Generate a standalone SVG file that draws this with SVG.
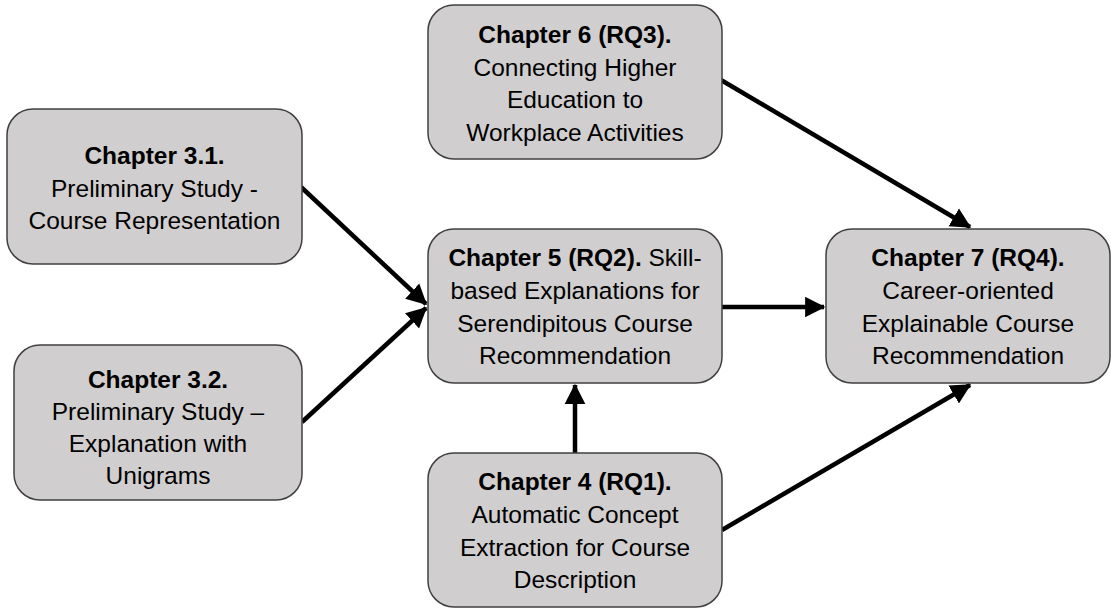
<svg xmlns="http://www.w3.org/2000/svg" width="1111" height="609" viewBox="0 0 1111 609">
<style>
.box{fill:#d0cece;stroke:#404040;stroke-width:1.5}
.t{font-family:"Liberation Sans",Arial,sans-serif;font-size:24.5px;fill:#000;text-anchor:middle}
.b{font-weight:bold}
.c{stroke:#000;stroke-width:4.5;fill:none;marker-end:url(#ah)}
</style>
<defs>
<marker id="ah" markerWidth="5" markerHeight="5" refX="4.2" refY="2.5" orient="auto" markerUnits="strokeWidth" viewBox="0 0 5 5">
<path d="M0,0.2 L4.5,2.5 L0,4.8 Z" fill="#000"/>
</marker>
</defs>
<rect width="1111" height="609" fill="#fff"/>
<g id="connectors">
<line class="c" x1="301" y1="187" x2="426" y2="304"/>
<line class="c" x1="302" y1="422" x2="426" y2="308"/>
<line class="c" x1="721" y1="80" x2="970" y2="227"/>
<line class="c" x1="722" y1="307" x2="824" y2="307"/>
<line class="c" x1="575" y1="453" x2="575" y2="385"/>
<line class="c" x1="722" y1="530" x2="970" y2="385"/>
</g>
<g id="ch31">
<rect class="box" x="7" y="109" width="295" height="155" rx="26"/>
<text class="t" x="154.5" y="164"><tspan class="b">Chapter 3.1.</tspan><tspan x="154.5" y="197">Preliminary Study -</tspan><tspan x="154.5" y="229">Course Representation</tspan></text>
</g>
<g id="ch32">
<rect class="box" x="14" y="345" width="288" height="155" rx="26"/>
<text class="t" x="158" y="388"><tspan class="b">Chapter 3.2.</tspan><tspan x="158" y="420">Preliminary Study –</tspan><tspan x="158" y="452">Explanation with</tspan><tspan x="158" y="484">Unigrams</tspan></text>
</g>
<g id="ch6">
<rect class="box" x="428" y="5" width="294" height="154" rx="26"/>
<text class="t" x="575" y="43"><tspan class="b">Chapter 6 (RQ3).</tspan><tspan x="575" y="76">Connecting Higher</tspan><tspan x="575" y="108">Education to</tspan><tspan x="575" y="141">Workplace Activities</tspan></text>
</g>
<g id="ch5">
<rect class="box" x="428" y="229" width="294" height="154" rx="26"/>
<text class="t" x="575" y="266"><tspan class="b">Chapter 5 (RQ2).</tspan><tspan> Skill-</tspan><tspan x="575" y="299">based Explanations for</tspan><tspan x="575" y="332">Serendipitous Course</tspan><tspan x="575" y="364">Recommendation</tspan></text>
</g>
<g id="ch4">
<rect class="box" x="428" y="453" width="294" height="154" rx="26"/>
<text class="t" x="575" y="490"><tspan class="b">Chapter 4 (RQ1).</tspan><tspan x="575" y="523">Automatic Concept</tspan><tspan x="575" y="556">Extraction for Course</tspan><tspan x="575" y="588">Description</tspan></text>
</g>
<g id="ch7">
<rect class="box" x="826" y="229" width="284" height="154" rx="26"/>
<text class="t" x="968" y="266"><tspan class="b">Chapter 7 (RQ4).</tspan><tspan x="968" y="299">Career-oriented</tspan><tspan x="968" y="332">Explainable Course</tspan><tspan x="968" y="364">Recommendation</tspan></text>
</g>
</svg>
